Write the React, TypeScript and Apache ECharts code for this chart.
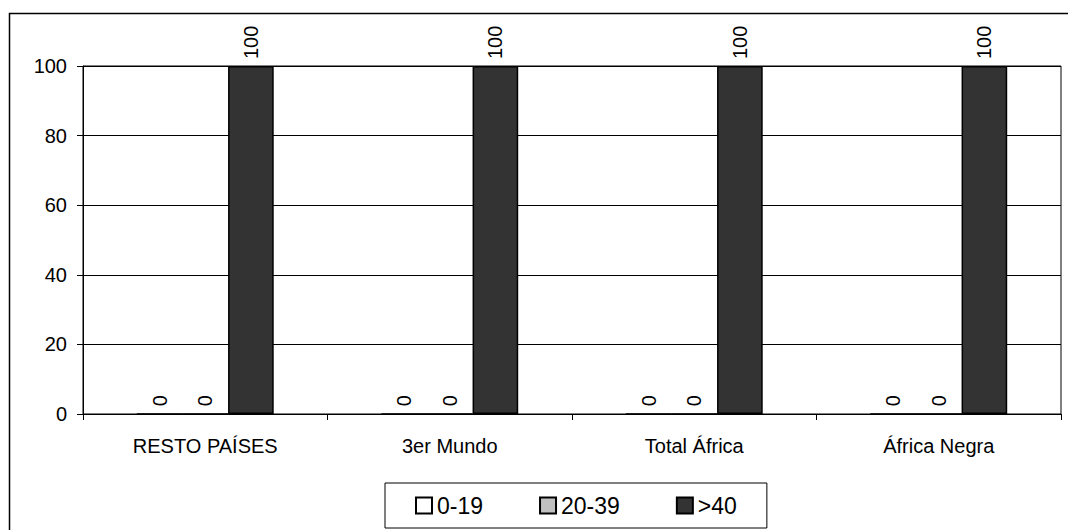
import React, { useEffect, useRef } from "react";
import * as echarts from "echarts";

const categories = ["RESTO PAÍSES", "3er Mundo", "Total África", "África Negra"];
const seriesNames = ["0-19", "20-39", ">40"];
const values0to19 = [0, 0, 0, 0];
const values20to39 = [0, 0, 0, 0];
const valuesOver40 = [100, 100, 100, 100];
const yTicks = { min: 0, max: 100, interval: 20 };

const colors = ["#ffffff", "#c0c0c0", "#333333"];
const FONT = "'Liberation Sans', Arial, sans-serif";

export default function App() {
  const ref = useRef<HTMLDivElement>(null);
  useEffect(() => {
    if (!ref.current) return;
    const chart = echarts.init(ref.current, undefined, { renderer: "svg" });
    const dataSets = [values0to19, values20to39, valuesOver40];
    chart.setOption({
      animation: false,
      backgroundColor: "#ffffff",
      textStyle: { fontFamily: FONT, color: "#000" },
      graphic: [
        {
          type: "rect",
          shape: { x: 9.5, y: 13.5, width: 1070, height: 530 },
          style: { fill: "none", stroke: "#000", lineWidth: 1.5 },
          silent: true,
        },
      ],
      grid: {
        left: 83,
        right: 7,
        top: 66,
        bottom: 116,
        show: true,
        borderColor: "#000",
        borderWidth: 1,
        backgroundColor: "transparent",
      },
      legend: {
        data: seriesNames,
        left: 385,
        top: 483,
        orient: "horizontal",
        padding: [11, 30],
        itemGap: 56,
        itemWidth: 16,
        itemHeight: 16,
        borderColor: "#000",
        borderWidth: 1,
        icon: "rect",
        textStyle: { fontFamily: FONT, fontSize: 23, color: "#000" },
      },
      xAxis: {
        type: "category",
        data: categories,
        axisLine: { lineStyle: { color: "#000", width: 1 } },
        axisTick: { show: true, length: 6, lineStyle: { color: "#000" } },
        axisLabel: { fontFamily: FONT, fontSize: 20, color: "#000", margin: 22 },
      },
      yAxis: {
        type: "value",
        min: yTicks.min,
        max: yTicks.max,
        interval: yTicks.interval,
        axisLine: { show: true, lineStyle: { color: "#000", width: 1 } },
        axisTick: { show: true, length: 6, lineStyle: { color: "#000" } },
        axisLabel: { fontFamily: FONT, fontSize: 20, color: "#000", margin: 16 },
        splitLine: { show: true, lineStyle: { color: "#000", width: 1 } },
      },
      series: seriesNames.map((name, i) => ({
        name,
        type: "bar",
        data: dataSets[i],
        barGap: "0%",
        barCategoryGap: "44%",
        itemStyle: { color: colors[i], borderColor: "#000", borderWidth: 1.5 },
        label: {
          show: true,
          position: "top",
          rotate: 90,
          align: "left",
          verticalAlign: "middle",
          distance: 7,
          fontFamily: FONT,
          fontSize: 20,
          color: "#000",
        },
      })),
    });
    return () => chart.dispose();
  }, []);
  return (
    <div
      ref={ref}
      style={{ position: "fixed", left: 0, top: 0, width: 1068, height: 530 }}
    />
  );
}
